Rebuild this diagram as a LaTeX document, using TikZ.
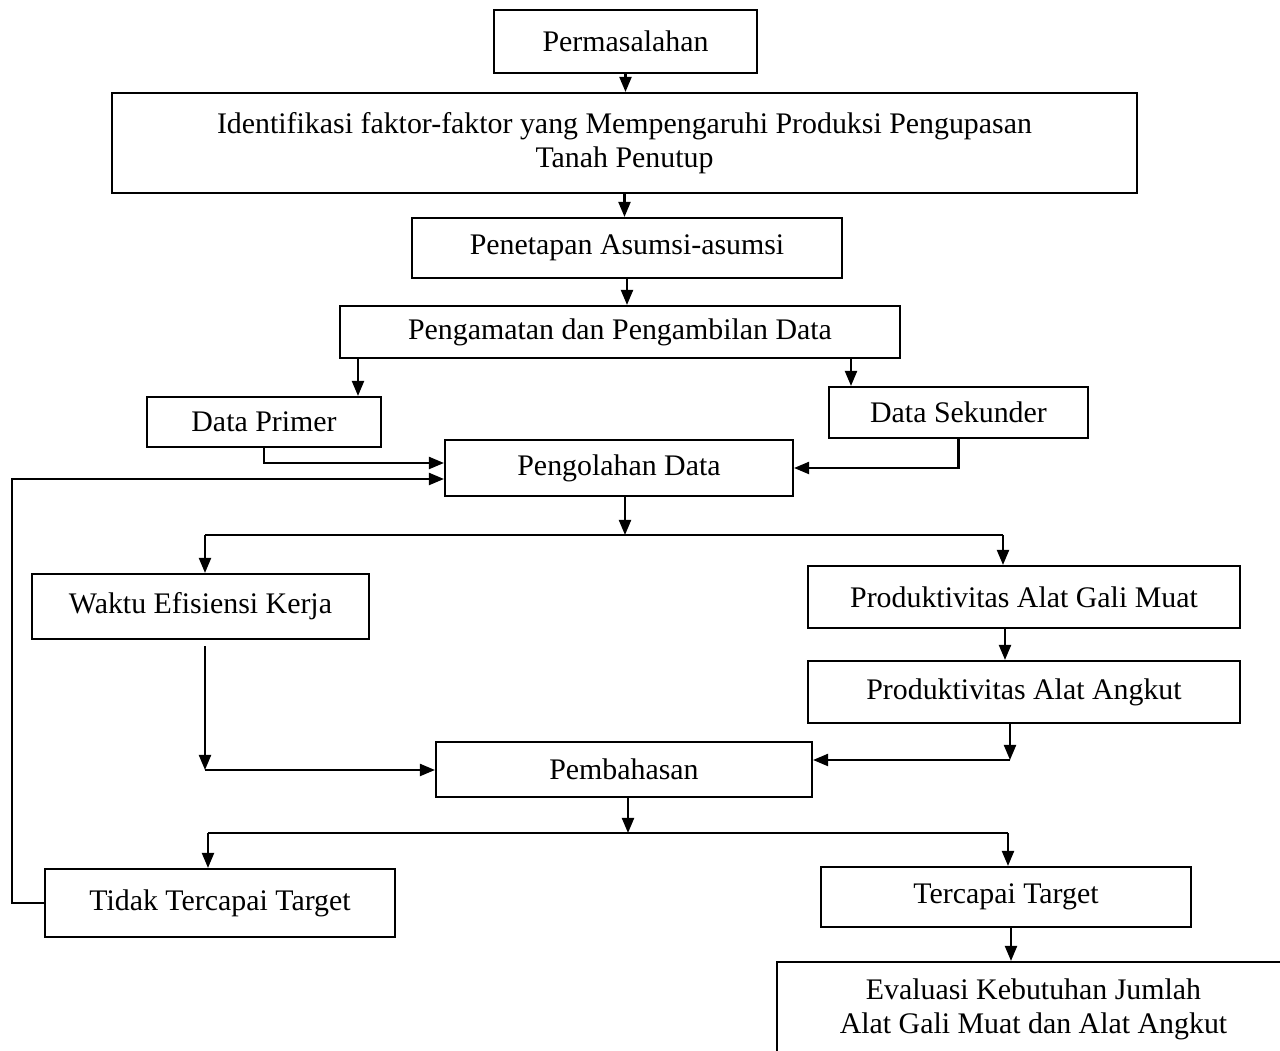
\documentclass[tikz,border=0pt]{standalone}
\usepackage{fontspec}
\setmainfont{Liberation Serif}
\usetikzlibrary{arrows.meta}

\begin{document}
\begin{tikzpicture}[x=0.1mm,y=-0.1mm,
  kotak/.style={draw,line width=0.6pt,fill=white,inner sep=0pt,align=center,
    font=\fontsize{8.5}{9.6}\selectfont},
  arr/.style={line width=0.6pt,-{Triangle[length=1.5mm,width=1.2mm]}},
  garis/.style={line width=0.6pt}]

\clip (0,0) rectangle (1280,1051);

\node[kotak,minimum width=26.3mm,minimum height=6.3mm] (masalah) at (625.5,41.5) {Permasalahan};
\node[kotak,minimum width=102.5mm,minimum height=10mm] (identifikasi) at (624.5,143) {Identifikasi faktor-faktor yang Mempengaruhi Produksi Pengupasan\\Tanah Penutup};
\node[kotak,minimum width=43mm,minimum height=6mm] (asumsi) at (627,248) {Penetapan Asumsi-asumsi};
\node[kotak,minimum width=56mm,minimum height=5.2mm] (pengamatan) at (620,332) {Pengamatan dan Pengambilan Data};
\node[kotak,minimum width=23.4mm,minimum height=5mm] (primer) at (264,422) {Data Primer};
\node[kotak,minimum width=25.9mm,minimum height=5.1mm] (sekunder) at (958.5,412.5) {Data Sekunder};
\node[kotak,minimum width=34.8mm,minimum height=5.6mm] (olah) at (619,468) {Pengolahan Data};
\node[kotak,minimum width=33.7mm,minimum height=6.5mm] (waktu) at (200.5,606.5) {Waktu Efisiensi Kerja};
\node[kotak,minimum width=43.2mm,minimum height=6.2mm] (gali) at (1024,597) {Produktivitas Alat Gali Muat};
\node[kotak,minimum width=43.2mm,minimum height=6.2mm] (angkut) at (1024,692) {Produktivitas Alat Angkut};
\node[kotak,minimum width=37.6mm,minimum height=5.5mm] (bahas) at (624,769.5) {Pembahasan};
\node[kotak,minimum width=35mm,minimum height=6.8mm] (tidak) at (220,903) {Tidak Tercapai Target};
\node[kotak,minimum width=37mm,minimum height=6mm] (capai) at (1006,897) {Tercapai Target};
\node[kotak,minimum width=51.3mm,minimum height=9.4mm] (evaluasi) at (1033.5,1009) {Evaluasi Kebutuhan Jumlah\\Alat Gali Muat dan Alat Angkut};

% titik bantu
\coordinate (kePrimer) at (358,0);
\coordinate (keSekunder) at (851,0);
\coordinate (bagiOlah) at (625,535);
\coordinate (bagiKiri) at (205,535);
\coordinate (bagiKanan) at (1003,535);
\coordinate (keAngkut) at (1005,0);
\coordinate (sikuKiri) at (205,770);
\coordinate (sikuKanan) at (1010,760);
\coordinate (bagiBahas) at (628,833);
\coordinate (hasilKiri) at (208,833);
\coordinate (hasilKanan) at (1008,833);
\coordinate (keEvaluasi) at (1011,0);

\draw[arr] (masalah.south) -- (masalah.south |- identifikasi.north);
\draw[arr] (identifikasi.south) -- (identifikasi.south |- asumsi.north);
\draw[arr] (asumsi.south) -- (asumsi.south |- pengamatan.north);
\draw[arr] (pengamatan.south -| kePrimer) -- (primer.north -| kePrimer);
\draw[arr] (pengamatan.south -| keSekunder) -- (sekunder.north -| keSekunder);

\draw[arr] (primer.south) |- ([yshift=0.5mm]olah.west);
\draw[arr] (sekunder.south) |- (olah.east);
\draw[arr] (tidak.west) -- ++(-32,0) |- ([yshift=-1.1mm]olah.west);

\draw[arr] (olah.south -| bagiOlah) -- (bagiOlah);
\draw[garis] (bagiKiri) -- (bagiKanan);
\draw[arr] (bagiKiri) -- (bagiKiri |- waktu.north);
\draw[arr] (bagiKanan) -- (bagiKanan |- gali.north);
\draw[arr] (gali.south -| keAngkut) -- (angkut.north -| keAngkut);

\draw[arr] ([yshift=-0.6mm]waktu.south -| sikuKiri) -- (sikuKiri);
\draw[arr] (sikuKiri) -- (sikuKiri -| bahas.west);
\draw[arr] (angkut.south -| sikuKanan) -- (sikuKanan);
\draw[arr] (sikuKanan) -- (sikuKanan -| bahas.east);

\draw[arr] (bahas.south -| bagiBahas) -- (bagiBahas);
\draw[garis] (hasilKiri) -- (hasilKanan);
\draw[arr] (hasilKiri) -- (hasilKiri |- tidak.north);
\draw[arr] (hasilKanan) -- (hasilKanan |- capai.north);
\draw[arr] (capai.south -| keEvaluasi) -- (evaluasi.north -| keEvaluasi);

\end{tikzpicture}
\end{document}
